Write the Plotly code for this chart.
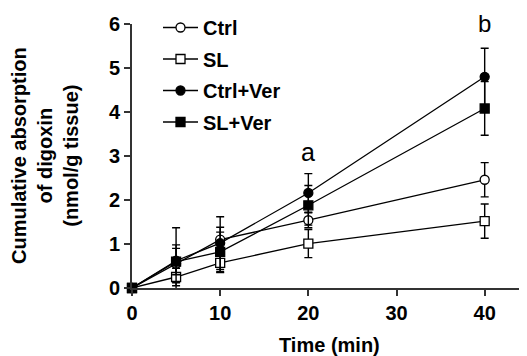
import plotly.graph_objects as go

time_min = [0, 5, 10, 20, 40]

ctrl = [0, 0.55, 1.10, 1.54, 2.46]
ctrl_err = [0, 0.43, 0.28, 0.17, 0.39]

sl = [0, 0.25, 0.57, 1.01, 1.52]
sl_err = [0, 0.20, 0.22, 0.32, 0.39]

ctrl_ver = [0, 0.62, 1.02, 2.16, 4.80]
ctrl_ver_err = [0, 0.75, 0.60, 0.44, 0.65]

sl_ver = [0, 0.60, 0.82, 1.88, 4.08]
sl_ver_err = [0, 0.30, 0.45, 0.45, 0.61]

series = [
    ("Ctrl", ctrl, ctrl_err, "circle", "white"),
    ("SL", sl, sl_err, "square", "white"),
    ("Ctrl+Ver", ctrl_ver, ctrl_ver_err, "circle", "black"),
    ("SL+Ver", sl_ver, sl_ver_err, "square", "black"),
]

x_ticks = [0, 10, 20, 30, 40]
y_ticks = [0, 1, 2, 3, 4, 5, 6]

FONT = "Liberation Sans, Arial, Helvetica, sans-serif"
# page body has an 8px margin, so the figure is drawn 8px smaller/shifted
W, H = 519, 348
L, R, T, B = 124, 0, 16, 68
PH = H - T - B

fig = go.Figure()
for name, vals, errs, sym, fill in series:
    fig.add_trace(go.Scatter(
        x=time_min, y=vals, name=name, mode="lines+markers",
        legendgroup=name,
        line=dict(color="black", width=1.3),
        marker=dict(symbol=sym, size=9, color=fill,
                    line=dict(color="black", width=1.3)),
        error_y=dict(type="data", array=errs, visible=True,
                     color="black", thickness=1.4, width=4),
        cliponaxis=False,
    ))

fig.add_annotation(x=20, y=3.08, text="a", showarrow=False,
                   font=dict(family=FONT, size=25, color="black"))
fig.add_annotation(x=40, xref="x", yref="paper", y=1 + 15.5 / PH,
                   text="b", showarrow=False, yanchor="top", borderpad=0,
                   font=dict(family=FONT, size=24, color="black"))

fig.add_annotation(xref="paper", yref="paper", x=(37 - L) / (W - L - R), y=0.5,
                   xanchor="center", yanchor="middle",
                   text="Cumulative absorption<br>of digoxin<br>(nmol/g tissue)",
                   textangle=-90, showarrow=False,
                   font=dict(family=FONT, size=20, color="black", weight="bold"))
fig.add_annotation(xref="paper", yref="paper", x=0.5, y=-(337 - (H - B)) / PH,
                   xanchor="center", yanchor="middle",
                   text="Time (min)", showarrow=False,
                   font=dict(family=FONT, size=20, color="black", weight="bold"))

fig.update_layout(
    width=W, height=H,
    margin=dict(l=L, r=R, t=T, b=B, autoexpand=False),
    paper_bgcolor="white", plot_bgcolor="white",
    showlegend=True,
    legend=dict(xref="container", yref="container",
                x=150 / W, y=1 + 8 / H, xanchor="left", yanchor="top",
                bgcolor="rgba(0,0,0,0)", traceorder="grouped",
                tracegroupgap=2.5, itemwidth=35,
                font=dict(family=FONT, size=20, color="black", weight="bold")),
    font=dict(family=FONT, color="black"),
)
fig.update_xaxes(range=[0, 44.8], tickvals=x_ticks, ticks="outside", ticklen=6,
                 tickwidth=1.5, tickcolor="#333", showline=True, linecolor="#333",
                 linewidth=2, showgrid=False, zeroline=False, automargin=False,
                 tickfont=dict(family=FONT, size=20, color="black", weight="bold"))
fig.update_yaxes(range=[0, 6], tickvals=y_ticks, ticks="outside", ticklen=6,
                 tickwidth=1.5, tickcolor="#333", showline=True, linecolor="#333",
                 linewidth=2, showgrid=False, zeroline=False, automargin=False,
                 tickfont=dict(family=FONT, size=20, color="black", weight="bold"))

fig.write_html("out.html")
